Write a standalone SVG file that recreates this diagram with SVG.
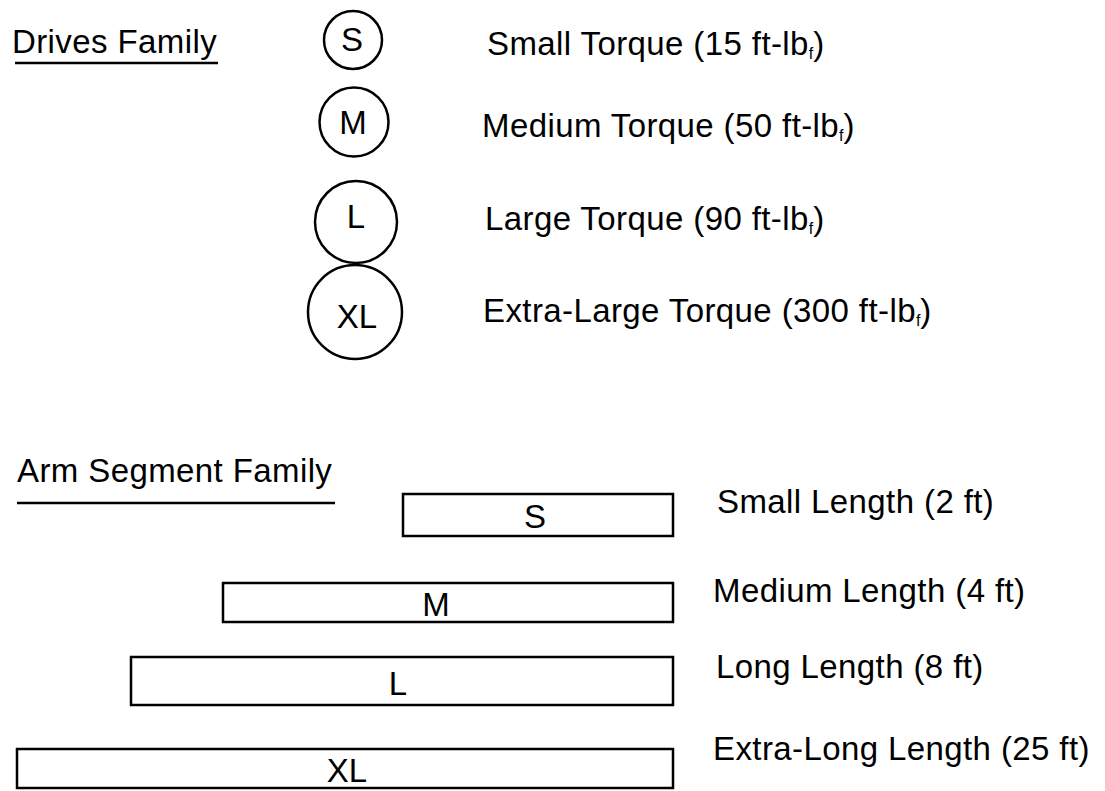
<svg xmlns="http://www.w3.org/2000/svg" width="1105" height="791" viewBox="0 0 1105 791">
<style>
text{font-family:"Liberation Sans",Arial,Helvetica,sans-serif;font-size:33px;fill:#000;letter-spacing:0.4px}
.c{text-anchor:middle;letter-spacing:0}
.sh{fill:none;stroke:#000;stroke-width:2.5}
.ul{stroke:#000;stroke-width:2.5;fill:none}
.sub{font-size:16px;letter-spacing:0}
</style>
<rect width="1105" height="791" fill="#fff"/>
<g id="drives-title">
<text x="12" y="53">Drives Family</text>
<line class="ul" x1="15" y1="63" x2="218" y2="63"/>
</g>
<g id="drive-S">
<circle class="sh" cx="353" cy="40" r="29"/>
<text class="c" x="352" y="51">S</text>
<text x="487" y="55">Small Torque (15 ft-lb<tspan class="sub" dy="4">f</tspan><tspan dy="-4">)</tspan></text>
</g>
<g id="drive-M">
<circle class="sh" cx="354" cy="122" r="34.5"/>
<text class="c" x="353" y="134">M</text>
<text x="482" y="137">Medium Torque (50 ft-lb<tspan class="sub" dy="4">f</tspan><tspan dy="-4">)</tspan></text>
</g>
<g id="drive-L">
<circle class="sh" cx="356" cy="222" r="41"/>
<text class="c" x="356" y="228">L</text>
<text x="485" y="230">Large Torque (90 ft-lb<tspan class="sub" dy="4">f</tspan><tspan dy="-4">)</tspan></text>
</g>
<g id="drive-XL">
<circle class="sh" cx="355" cy="312" r="47"/>
<text class="c" x="357" y="328">XL</text>
<text x="483" y="322">Extra-Large Torque (300 ft-lb<tspan class="sub" dy="4">f</tspan><tspan dy="-4">)</tspan></text>
</g>
<g id="arm-title">
<text x="17" y="482">Arm Segment Family</text>
<line class="ul" x1="17" y1="503" x2="335" y2="503"/>
</g>
<g id="arm-S">
<rect class="sh" x="403" y="494" width="270" height="42"/>
<text class="c" x="535" y="528">S</text>
<text x="717" y="513">Small Length (2 ft)</text>
</g>
<g id="arm-M">
<rect class="sh" x="223" y="583" width="450" height="39"/>
<text class="c" x="436" y="616">M</text>
<text x="713" y="602">Medium Length (4 ft)</text>
</g>
<g id="arm-L">
<rect class="sh" x="131" y="657" width="542" height="48"/>
<text class="c" x="398" y="695">L</text>
<text x="716" y="678">Long Length (8 ft)</text>
</g>
<g id="arm-XL">
<rect class="sh" x="17" y="749" width="656" height="39"/>
<text class="c" x="347" y="782">XL</text>
<text x="713" y="760">Extra-Long Length (25 ft)</text>
</g>
<g id="connectors"></g>
</svg>
